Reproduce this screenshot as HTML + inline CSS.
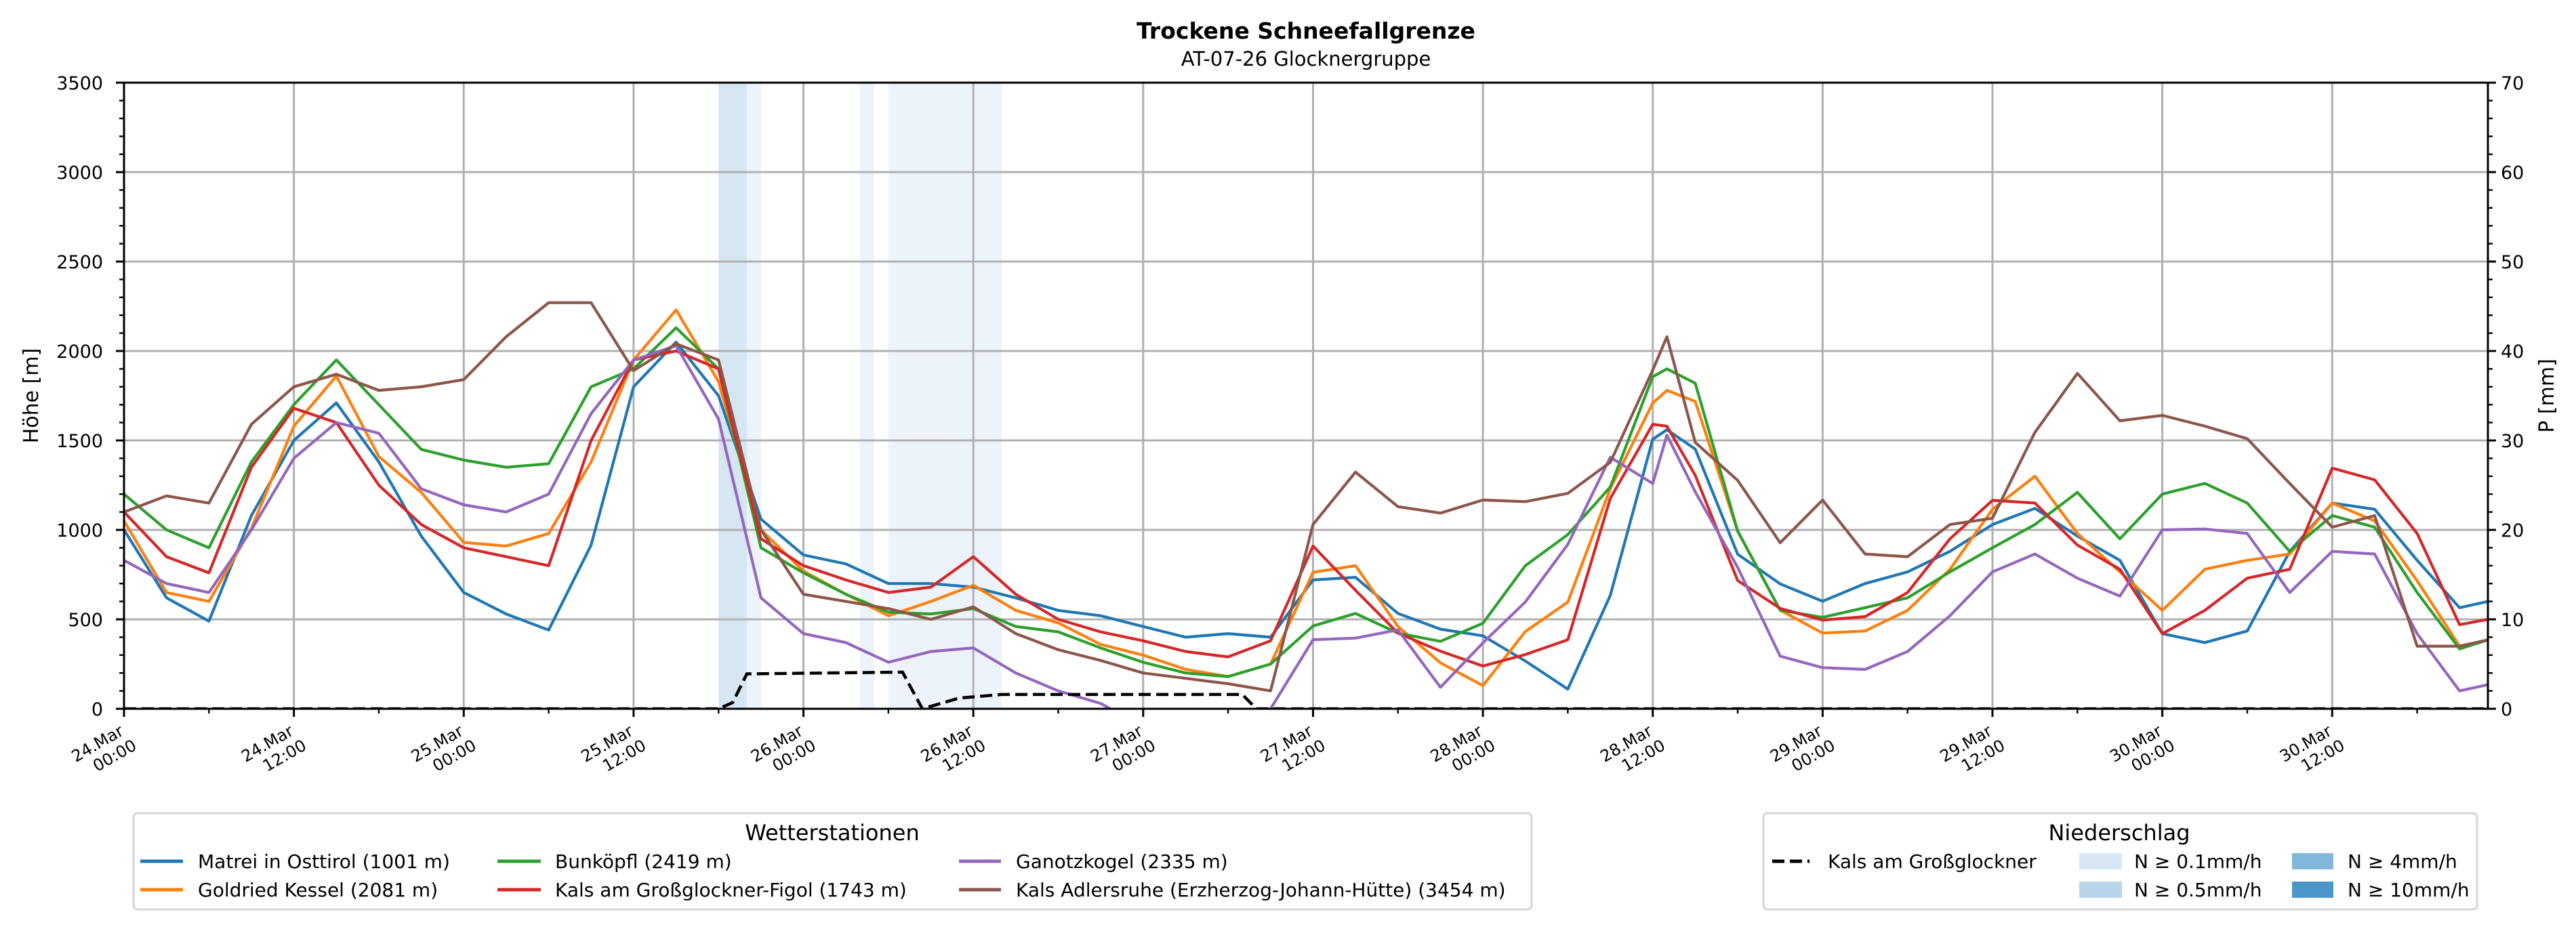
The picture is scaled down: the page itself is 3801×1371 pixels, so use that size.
<!DOCTYPE html>
<html><head><meta charset="utf-8"><style>
html,body{margin:0;padding:0;background:#fff;}
svg{display:block;font-family:"DejaVu Sans","Liberation Sans",sans-serif;}
</style></head><body>
<svg id="chart" width="3801" height="1371" viewBox="0 0 3801 1371" xmlns="http://www.w3.org/2000/svg">
<defs><clipPath id="plotclip"><rect x="183" y="122" width="3488" height="924"/></clipPath></defs>
<text x="1927" y="57" text-anchor="middle" font-size="33" font-weight="bold">Trockene Schneefallgrenze</text>
<text x="1927" y="97" text-anchor="middle" font-size="29">AT-07-26 Glocknergruppe</text>
<g id="bands" clip-path="url(#plotclip)"></g>
<g id="grid"></g>
<g id="series" clip-path="url(#plotclip)"></g>
<g id="axes"></g>
<text transform="translate(56,584) rotate(-90)" text-anchor="middle" font-size="30">Höhe [m]</text>
<text transform="translate(3768,584) rotate(-90)" text-anchor="middle" font-size="30">P [mm]</text>

<g>
<rect x="197" y="1200" width="2063" height="142" rx="6" fill="#fff" stroke="#d5d5d5" stroke-width="3"/>
<text x="1228" y="1240" text-anchor="middle" font-size="32">Wetterstationen</text>
<g><line x1="207" x2="270" y1="1271" y2="1271" stroke="#1f77b4" stroke-width="5"/><text x="292" y="1281" font-size="28">Matrei in Osttirol (1001 m)</text></g>
<g><line x1="207" x2="270" y1="1313" y2="1313" stroke="#ff7f0e" stroke-width="5"/><text x="292" y="1323" font-size="28">Goldried Kessel (2081 m)</text></g>
<g><line x1="734" x2="798" y1="1271" y2="1271" stroke="#2ca02c" stroke-width="5"/><text x="819" y="1281" font-size="28">Bunköpfl (2419 m)</text></g>
<g><line x1="734" x2="798" y1="1313" y2="1313" stroke="#d62728" stroke-width="5"/><text x="819" y="1323" font-size="28">Kals am Großglockner-Figol (1743 m)</text></g>
<g><line x1="1415" x2="1477" y1="1271" y2="1271" stroke="#9467bd" stroke-width="5"/><text x="1499" y="1281" font-size="28">Ganotzkogel (2335 m)</text></g>
<g><line x1="1415" x2="1477" y1="1313" y2="1313" stroke="#8c564b" stroke-width="5"/><text x="1499" y="1323" font-size="28">Kals Adlersruhe (Erzherzog-Johann-Hütte) (3454 m)</text></g>
</g>

<g>
<rect x="2602" y="1200" width="1053" height="142" rx="6" fill="#fff" stroke="#d5d5d5" stroke-width="3"/>
<text x="3127" y="1240" text-anchor="middle" font-size="32">Niederschlag</text>
<g><line x1="2615" x2="2670" y1="1271" y2="1271" stroke="#000" stroke-width="5" stroke-dasharray="18,8"/><text x="2697" y="1281" font-size="28">Kals am Großglockner</text></g>
<g><rect x="3068" y="1259" width="63" height="24" fill="#d8e7f4"/><text x="3149" y="1281" font-size="28">N ≥ 0.1mm/h</text></g>
<g><rect x="3068" y="1301" width="63" height="24" fill="#b8d4ea"/><text x="3149" y="1323" font-size="28">N ≥ 0.5mm/h</text></g>
<g><rect x="3382" y="1259" width="61" height="24" fill="#80b7da"/><text x="3464" y="1281" font-size="28">N ≥ 4mm/h</text></g>
<g><rect x="3382" y="1301" width="61" height="24" fill="#4a96c9"/><text x="3464" y="1323" font-size="28">N ≥ 10mm/h</text></g>
</g>
</svg>
<script>
const hours = [0,3,6,9,12,15,18,21,24,27,30,33,36,39,42,45,48,51,54,57,60,63,66,69,72,75,78,81,84,87,90,93,96,99,102,105,108,109,111,114,117,120,123,126,129,132,135,138,141,144,147,150,153,156,159,162,165,167];
const matrei = [1000,620,490,1080,1500,1710,1380,965,650,530,440,915,1800,2050,1750,1060,860,810,700,700,680,620,550,520,460,400,420,400,720,735,533,445,408,267,110,634,1507,1560,1452,864,698,601,700,765,880,1030,1120,965,830,420,370,435,880,1150,1115,830,565,600];
const goldried = [1050,650,600,1010,1580,1860,1410,1210,930,910,980,1380,1950,2230,1830,1000,770,640,520,600,690,550,480,360,300,220,180,250,763,800,460,257,129,432,597,1231,1709,1780,1718,993,551,423,435,550,780,1115,1300,980,765,550,780,830,865,1150,1050,715,350,385];
const bunkoepfl = [1200,1000,900,1380,1700,1950,1700,1450,1390,1350,1370,1800,1900,2130,1900,900,760,640,540,530,560,460,430,340,260,200,180,250,463,533,423,377,478,800,974,1240,1856,1900,1820,993,551,511,565,620,765,900,1030,1210,950,1200,1260,1150,880,1080,1015,650,335,385];
const kalsFigol = [1100,850,760,1350,1680,1600,1250,1030,900,850,800,1500,1950,2000,1900,950,800,720,650,680,850,640,500,430,380,320,290,380,910,662,423,322,239,303,386,1176,1590,1580,1305,717,561,496,515,650,950,1165,1150,915,780,420,550,730,780,1345,1280,980,470,500];
const ganotz = [830,700,650,1000,1400,1600,1540,1230,1140,1100,1200,1650,1950,2030,1620,620,420,370,260,320,340,200,100,30,-100,-100,-50,0,386,395,441,120,368,597,919,1406,1259,1530,1213,790,294,230,220,320,520,765,865,730,630,1000,1005,980,650,880,865,420,100,135];
const adlersruhe = [1100,1190,1150,1590,1800,1870,1780,1800,1840,2080,2270,2270,1890,2040,1950,1000,640,600,560,500,570,420,330,270,200,170,140,100,1030,1323,1130,1094,1167,1158,1204,1378,1893,2080,1489,1277,928,1167,865,850,1030,1065,1545,1875,1610,1640,1580,1510,1260,1015,1080,350,350,385];
const precipHours = [0,42,43,44,55,56.4,59,62,79,80,167];
const precipValues = [0,0,0.7,3.9,4.1,0,1.2,1.6,1.6,0,0];
const bandStart = [42,44,52,54];
const bandEnd = [44,45,53,62];
const bandLevel = ['mid','low','low','low'];
const xTickLabels = ['24.Mar\n00:00','24.Mar\n12:00','25.Mar\n00:00','25.Mar\n12:00','26.Mar\n00:00','26.Mar\n12:00','27.Mar\n00:00','27.Mar\n12:00','28.Mar\n00:00','28.Mar\n12:00','29.Mar\n00:00','29.Mar\n12:00','30.Mar\n00:00','30.Mar\n12:00'];
const yTicks = [0,500,1000,1500,2000,2500,3000,3500];
const y2Ticks = [0,10,20,30,40,50,60,70];

const L=183,R=3671,T=122,B=1046,HMAX=167;
const NS='http://www.w3.org/2000/svg';
const xs=h=>L+(R-L)*h/HMAX;
const ys=v=>B-(B-T)*v/3500;
const ys2=v=>B-(B-T)*v/70;
function mk(tag,attrs,parent){const e=document.createElementNS(NS,tag);for(const k in attrs)e.setAttribute(k,attrs[k]);parent.appendChild(e);return e;}
const bandsG=document.getElementById('bands'),gridG=document.getElementById('grid'),serG=document.getElementById('series'),axG=document.getElementById('axes');

bandStart.forEach((s,i)=>{
  const r=mk('rect',{x:xs(s),y:T,width:xs(bandEnd[i])-xs(s),height:B-T,fill:bandLevel[i]==='mid'?'#d6e6f3':'#edf3fa'},bandsG);
  
  
});
xTickLabels.forEach((lab,i)=>{
  const x=xs(i*12);
  const g=mk('line',{x1:x,x2:x,y1:T,y2:B,stroke:'#b0b0b0','stroke-width':3},gridG);
  
  
});
yTicks.forEach(v=>{
  const g=mk('line',{x1:L,x2:R,y1:ys(v),y2:ys(v),stroke:'#b0b0b0','stroke-width':3},gridG);
  
  
});
function path(hs,vals,yf){return hs.map((h,i)=>(i?'L':'M')+xs(h).toFixed(1)+','+yf(vals[i]).toFixed(1)).join('');}
const seriesList=[['matrei',matrei,'#1f77b4'],['goldried',goldried,'#ff7f0e'],['bunkoepfl',bunkoepfl,'#2ca02c'],['kals-figol',kalsFigol,'#d62728'],['ganotzkogel',ganotz,'#9467bd'],['adlersruhe',adlersruhe,'#8c564b']];
seriesList.forEach(s=>{
  const p=mk('path',{d:path(hours,s[1],ys),fill:'none',stroke:s[2],'stroke-width':4.2,'stroke-linejoin':'round'},serG);
  
  
});
const pp=mk('path',{d:path(precipHours,precipValues,ys2),fill:'none',stroke:'#000','stroke-width':4.5,'stroke-dasharray':'18,8'},serG);


const frame=mk('rect',{x:L,y:T,width:R-L,height:B-T,fill:'none',stroke:'#000','stroke-width':3},axG);


for(let v=0;v<=3500;v+=100){
  const major=v%500===0;
  mk('line',{x1:L,x2:L-(major?12:7),y1:ys(v),y2:ys(v),stroke:'#000','stroke-width':major?3:2.4},axG);
}
yTicks.forEach(v=>{
  const t=mk('text',{x:152,y:ys(v)+10,'text-anchor':'end','font-size':27},axG);
  t.textContent=v;
  
  
});
for(let v=0;v<=70;v+=2){
  const major=v%10===0;
  mk('line',{x1:R,x2:R+(major?12:7),y1:ys2(v),y2:ys2(v),stroke:'#000','stroke-width':major?3:2.4},axG);
}
y2Ticks.forEach(v=>{
  const t=mk('text',{x:3690,y:ys2(v)+10,'text-anchor':'start','font-size':27},axG);
  t.textContent=v;
  
  
});
for(let h=0;h<=HMAX;h+=6){
  const major=h%12===0;
  mk('line',{x1:xs(h),x2:xs(h),y1:B,y2:B+(major?12:7),stroke:'#000','stroke-width':major?3:2.4},axG);
}
xTickLabels.forEach((lab,i)=>{
  const g=mk('g',{transform:'translate('+(xs(i*12)-8)+','+(B+22)+') rotate(-30)'},axG);
  
  
  lab.split('\n').forEach((ln,j)=>{
    const t=mk('text',{x:j*6,y:18+j*28,'text-anchor':'end','font-size':24},g);
    t.textContent=ln;
  });
});
</script>
</body></html>
